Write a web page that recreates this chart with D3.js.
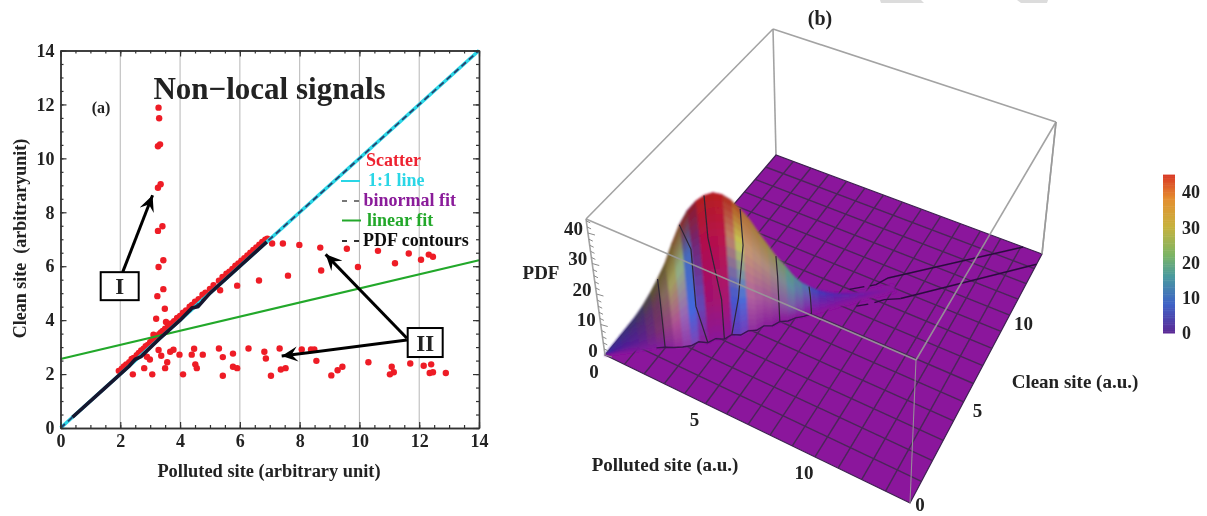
<!DOCTYPE html>
<html>
<head>
<meta charset="utf-8">
<script src="https://cdn.jsdelivr.net/npm/d3@7"></script>
<style>
body { margin: 0; background: #fff; }
text { font-family: "Liberation Serif", serif; font-weight: bold; fill: #222; }
</style>
</head>
<body>
<div id="chart"></div>
<script>
// ---- panel (a) data ----
var diagX = [1.95,2.05,2.12,2.2,2.3,2.38,2.45,2.55,2.62,2.7,2.78,2.85,2.92,3.0,3.05,3.1,3.18,3.25,3.3,3.36,3.42,3.5,3.6,3.7,3.8,3.9,4.0,4.1,4.2,4.32,4.4,4.5,4.62,4.75,4.85,5.0,5.12,5.3,5.42,5.55,5.65,5.75,5.85,5.95,6.05,6.15,6.25,6.35,6.45,6.55,6.65,6.75,6.85,6.92];
var diagY = [2.12,2.2,2.28,2.36,2.44,2.56,2.6,2.7,2.78,2.88,2.94,3.03,3.08,3.18,3.22,3.28,3.36,3.4,3.48,3.54,3.6,3.68,3.78,3.88,3.96,4.08,4.16,4.28,4.36,4.5,4.56,4.68,4.78,4.94,5.02,5.16,5.3,5.46,5.6,5.72,5.8,5.9,6.02,6.1,6.2,6.3,6.4,6.5,6.6,6.7,6.8,6.9,6.98,7.02];
var branchX = [3.28,3.3,3.26,3.33,3.26,3.35,3.26,3.41,3.28,3.44,3.24,3.44,3.49,3.2,3.53,3.11];
var branchY = [11.88,11.49,10.45,10.52,8.91,9.04,7.31,7.48,5.97,6.22,4.89,5.15,4.42,4.05,3.93,3.46];
var lowX = [2.42,2.8,3.07,2.99,2.89,3.28,3.37,3.5,3.57,3.67,3.78,3.98,4.1,4.39,4.47,4.51,4.56,4.76,5.3,5.43,5.43,5.77,5.77,5.91,6.29,6.82,6.87,7.33,7.04,7.37,7.53,8.07,8.38,8.49,8.56,9.06,9.27,9.43,10.3,11.08,11.15,11.02,11.7,12.15,12.4,12.35,12.46,12.89];
var lowY = [1.99,2.22,1.99,2.54,2.64,2.89,2.68,2.22,2.44,2.83,2.9,2.72,1.99,2.72,2.94,2.36,2.22,2.72,2.95,2.63,1.94,2.76,2.27,2.22,2.95,2.83,2.58,2.95,1.94,2.17,2.22,2.91,2.91,2.91,2.49,1.95,2.14,2.27,2.44,2.27,2.07,1.99,2.39,2.31,2.36,2.04,2.07,2.04];
var highX = [5.34,5.91,6.64,7.61,8.72,9.95,11.19,12.06,7.08,7.44,7.99,8.69,9.58,10.62,11.65,12.32,12.46];
var highY = [5.11,5.28,5.47,5.65,5.84,5.97,6.11,6.24,6.84,6.84,6.79,6.69,6.65,6.57,6.47,6.43,6.35];
var oneToOne = [0, 14];
var fitX = [0, 14];
var fitY = [2.56, 6.22];
var contourX = [0.4,1.5,2.3,2.5,2.7,3.3,3.5,3.7,4.0,4.4,4.6,5.0,6.0,6.9];
var contourY = [0.4,1.5,2.3,2.55,2.65,3.3,3.5,3.7,4.0,4.45,4.5,5.0,6.0,6.9];
var axisTicks = [0,2,4,6,8,10,12,14];
var gridTicks = [2,4,6,8,10,12];
var minorTicks = d3.range(0, 14.01, 0.5);
var legendLabels = ["Scatter","1:1 line","binormal fit","linear fit","PDF contours"];

// ---- panel (b) data ----
// ridge runs along polluted = clean; t is the position along it, every 0.25
var ridgeT = d3.range(0, 9.01, 0.25);
var ridgeZ = [0,2.5,5,7.5,10,13,16.5,20.5,25,31,36.5,40.5,43,44.3,44.6,43.4,41,37.5,33.5,28.5,24,19.5,16,12,9,7,5.3,4,3,2.3,1.7,1.1,0.6,0.35,0.2,0.08,0];
var midZ = [0,1.8,3.6,5.4,7.2,9.4,11.8,14.8,18,22.3,26.3,29.2,31,31.9,32.1,31.2,29.5,27,24.1,20.5,17.3,14,11.5,8.6,6.5,5,3.8,2.9,2.2,1.7,1.2,0.8,0.4,0.25,0.15,0.05,0];
var lowZ = [0,0.7,1.4,2.1,2.8,3.6,4.6,5.7,7,8.7,10.2,11.3,12,12.4,12.5,12.2,11.5,10.5,9.4,8,6.7,5.5,4.5,3.4,2.5,2,1.5,1.1,0.8,0.6,0.5,0.3,0.2,0.1,0.05,0,0];
var footOff = [0.05,0.1,0.15,0.2,0.25,0.3,0.35,0.45,0.62,0.72,0.78,0.62,0.84,0.68,0.86,0.66,0.84,0.66,0.76,0.56,0.7,0.52,0.62,0.52,0.55,0.5,0.5,0.45,0.45,0.4,0.4,0.35,0.35,0.3,0.3,0.3,0.3];
var pdfTicks = [0,10,20,30,40];
var siteTicks = [0,5,10];
var barTicks = [0,10,20,30,40];
// contour lines on the floor, polluted / clean
var tailUpX = [8.5,13.1], tailUpY = [9.4,14];
var tailLowX = [9.5,14], tailLowY = [8.6,13.3];
var brokenUpX = [7.3,7.8], brokenUpY = [8.0,8.45];
var brokenUpX2 = [8.0,8.2,8.5], brokenUpY2 = [8.6,8.8,9.4];
var brokenLowX = [8.0,8.4], brokenLowY = [7.3,7.65];
var brokenLowX2 = [8.6,8.9,9.5], brokenLowY2 = [7.85,8.2,8.6];
// lines down the hill face, t at ridge / mid / low / foot
var faceLines = [[1.75,1.75,1.75,1.75],[2.5,2.75,2.75,3.0],[3.25,3.25,3.5,3.5],[4.25,4.25,3.9,3.75],[5.25,5.25,5.25,5.25],[6.25,6.25,6.25,6.25]];

var svg = d3.select("#chart").append("svg")
    .attr("width", 1207)
    .attr("height", 516)
    .style("display", "block");

var defs = svg.append("defs");
var blur = defs.append("filter").attr("id", "soft").attr("x", 0).attr("y", 0).attr("width", "100%").attr("height", "100%");
blur.append("feGaussianBlur").attr("stdDeviation", 0.45);
var blurHill = defs.append("filter").attr("id", "softHill");
blurHill.append("feGaussianBlur").attr("stdDeviation", 1);

defs.append("marker")
    .attr("id", "head")
    .attr("viewBox", "-16 -8 18 16")
    .attr("markerUnits", "userSpaceOnUse")
    .attr("markerWidth", 18)
    .attr("markerHeight", 16)
    .attr("orient", "auto")
    .append("path")
    .attr("d", "M0,0 L-16,-7.5 L-10,0 L-16,7.5 Z")
    .attr("fill", "#000");

var root = svg.append("g").attr("filter", "url(#soft)");

// watermark scraps along the top edge
root.append("path").attr("d", "M880,0H921L924,3H881Z").attr("fill", "#dcdcdc");
root.append("path").attr("d", "M1017,0H1048L1047,3H1021Z").attr("fill", "#dcdcdc");

// ---------------- panel (a) ----------------
var xScale = d3.scaleLinear().domain([0, 14]).range([60.5, 479]);
var yScale = d3.scaleLinear().domain([0, 14]).range([428, 50.5]);
var left = root.append("g");

left.selectAll(".grid")
    .data(gridTicks)
    .join("line")
    .attr("class", "grid")
    .attr("x1", function(d) { return xScale(d); })
    .attr("x2", function(d) { return xScale(d); })
    .attr("y1", yScale(0))
    .attr("y2", yScale(14))
    .attr("stroke", "#bdbdbd")
    .attr("stroke-width", 1.1);

function dots(xs, ys) {
    left.append("g").selectAll("circle")
        .data(xs)
        .join("circle")
        .attr("cx", function(d) { return xScale(d); })
        .attr("cy", function(d, i) { return yScale(ys[i]); })
        .attr("r", 3.2)
        .attr("fill", "#ee1c25");
}
dots(diagX, diagY);
dots(branchX, branchY);
dots(lowX, lowY);
dots(highX, highY);

var dataLine = d3.line()
    .x(function(d) { return xScale(d[0]); })
    .y(function(d) { return yScale(d[1]); });

left.append("path")
    .attr("d", dataLine(oneToOne.map(function(d) { return [d, d]; })))
    .attr("stroke", "#2bd6e6").attr("stroke-width", 3.6).attr("fill", "none");
left.append("path")
    .attr("d", dataLine(oneToOne.map(function(d) { return [d, d]; })))
    .attr("stroke", "#27406e").attr("stroke-width", 1.8).attr("stroke-dasharray", "6,4").attr("fill", "none");
left.append("path")
    .attr("d", dataLine(fitX.map(function(d, i) { return [d, fitY[i]]; })))
    .attr("stroke", "#22a82a").attr("stroke-width", 2.2).attr("fill", "none");
left.append("path")
    .attr("d", dataLine(contourX.map(function(d, i) { return [d, contourY[i]]; })))
    .attr("stroke", "#14142e").attr("stroke-width", 3.6).attr("fill", "none");

// axes, ticks pointing inward on all four sides
function sideAxis(maker, scale, tx, ty, values, size, labels) {
    var a = maker(scale).tickValues(values).tickSizeInner(-size).tickSizeOuter(0).tickPadding(labels ? 6 : 0);
    if (!labels) a.tickFormat("");
    var g = left.append("g").attr("transform", "translate(" + tx + "," + ty + ")").call(a);
    g.selectAll(".domain").attr("stroke", "#333").attr("stroke-width", 1.4);
    g.selectAll(".tick line").attr("stroke", "#333").attr("stroke-width", 1.2);
    g.selectAll("text").attr("font-size", 18).attr("font-family", "Liberation Serif").attr("font-weight", "bold").attr("fill", "#222");
}
sideAxis(d3.axisBottom, xScale, 0, yScale(0), minorTicks, 3, false);
sideAxis(d3.axisTop, xScale, 0, yScale(14), minorTicks, 3, false);
sideAxis(d3.axisLeft, yScale, xScale(0), 0, minorTicks, 3, false);
sideAxis(d3.axisRight, yScale, xScale(14), 0, minorTicks, 3, false);
sideAxis(d3.axisBottom, xScale, 0, yScale(0), axisTicks, 6, true);
sideAxis(d3.axisTop, xScale, 0, yScale(14), axisTicks, 6, false);
sideAxis(d3.axisLeft, yScale, xScale(0), 0, axisTicks, 6, true);
sideAxis(d3.axisRight, yScale, xScale(14), 0, axisTicks, 6, false);

left.append("text").attr("x", 269).attr("y", 477).attr("text-anchor", "middle").attr("font-size", 18.4).text("Polluted site (arbitrary unit)");
left.append("text").attr("transform", "translate(26,238.5) rotate(-90)").attr("text-anchor", "middle").attr("font-size", 18).style("white-space", "pre").text("Clean site  (arbitraryunit)");
left.append("text").attr("x", 269.5).attr("y", 99).attr("text-anchor", "middle").attr("font-size", 31).text("Non\u2212local signals");
left.append("text").attr("x", 101).attr("y", 113).attr("text-anchor", "middle").attr("font-size", 16).text("(a)");

// legend
var legendY = [166, 186, 205.5, 225.5, 245.5];
var legendTextX = [366, 368, 363.5, 367, 363];
var legendColor = ["#ee2430", "#2bd6e6", "#8a1a9a", "#22a82a", "#111"];
left.selectAll(".leg")
    .data(legendLabels)
    .join("text")
    .attr("class", "leg")
    .attr("x", function(d, i) { return legendTextX[i]; })
    .attr("y", function(d, i) { return legendY[i]; })
    .attr("font-size", 18)
    .style("fill", function(d, i) { return legendColor[i]; })
    .text(function(d) { return d; });
left.append("line").attr("x1", 341).attr("x2", 360).attr("y1", 181).attr("y2", 181).attr("stroke", "#2bd6e6").attr("stroke-width", 2);
left.append("line").attr("x1", 342).attr("x2", 359).attr("y1", 201).attr("y2", 201).attr("stroke", "#777").attr("stroke-width", 2).attr("stroke-dasharray", "5,7");
left.append("line").attr("x1", 342).attr("x2", 361).attr("y1", 220.5).attr("y2", 220.5).attr("stroke", "#22a82a").attr("stroke-width", 2);
left.append("line").attr("x1", 342).attr("x2", 359).attr("y1", 241).attr("y2", 241).attr("stroke", "#333").attr("stroke-width", 2).attr("stroke-dasharray", "5,7");

// annotation arrows and boxes, in data units
var arrows = [[2.08,5.78,3.08,8.63],[11.59,3.26,7.4,2.67],[11.59,3.33,8.87,6.44]];
left.selectAll(".arrow")
    .data(arrows)
    .join("line")
    .attr("class", "arrow")
    .attr("x1", function(d) { return xScale(d[0]); })
    .attr("y1", function(d) { return yScale(d[1]); })
    .attr("x2", function(d) { return xScale(d[2]); })
    .attr("y2", function(d) { return yScale(d[3]); })
    .attr("stroke", "#000").attr("stroke-width", 3)
    .attr("marker-end", "url(#head)");

var boxes = [{x: 1.98, y: 5.26, w: 38, h: 28, t: "I"}, {x: 12.2, y: 3.17, w: 35, h: 29, t: "II"}];
boxes.forEach(function(b) {
    left.append("rect")
        .attr("x", xScale(b.x) - b.w / 2).attr("y", yScale(b.y) - b.h / 2)
        .attr("width", b.w).attr("height", b.h)
        .attr("fill", "#fff").attr("stroke", "#000").attr("stroke-width", 2);
    left.append("text")
        .attr("x", xScale(b.x)).attr("y", yScale(b.y) + 8)
        .attr("text-anchor", "middle").attr("font-size", 23).text(b.t);
});

// ---------------- panel (b) ----------------
// floor and lid of the box as screen quads; (x,y) 0..14 through scales, then projective map
var uScale = d3.scaleLinear().domain([0, 14]).range([0, 1]);
var zScale = d3.scaleLinear().domain([0, 44.6]).range([0, 1]);
var floorQuad = [[605,355],[910,503],[1042,254],[776,155]];
var lidQuad = [[586,219],[916,360],[1056,122],[773,29]];

function quadMap(q) {
    var dx1 = q[1][0] - q[2][0], dx2 = q[3][0] - q[2][0], sx = q[0][0] - q[1][0] + q[2][0] - q[3][0];
    var dy1 = q[1][1] - q[2][1], dy2 = q[3][1] - q[2][1], sy = q[0][1] - q[1][1] + q[2][1] - q[3][1];
    var den = dx1 * dy2 - dx2 * dy1;
    var g = (sx * dy2 - dx2 * sy) / den, h = (dx1 * sy - sx * dy1) / den;
    var a = q[1][0] - q[0][0] + g * q[1][0], b = q[3][0] - q[0][0] + h * q[3][0];
    var d = q[1][1] - q[0][1] + g * q[1][1], e = q[3][1] - q[0][1] + h * q[3][1];
    return function(u, v) {
        var w = g * u + h * v + 1;
        return [(a * u + b * v + q[0][0]) / w, (d * u + e * v + q[0][1]) / w];
    };
}
var floorMap = quadMap(floorQuad), lidMap = quadMap(lidQuad);

function project(x, y, z) {
    var u = uScale(x), v = uScale(y), k = zScale(z);
    var p = floorMap(u, v), q = lidMap(u, v);
    return [p[0] + (q[0] - p[0]) * k, p[1] + (q[1] - p[1]) * k];
}

var right = root.append("g");
var poly = d3.line();

function boxEdge(a, b, w) {
    right.append("line")
        .attr("x1", a[0]).attr("y1", a[1]).attr("x2", b[0]).attr("y2", b[1])
        .attr("stroke", "#999").attr("stroke-width", w || 1.6).attr("opacity", 0.9);
}
var zTop = 44.6;
boxEdge(project(0,14,0), project(0,14,zTop));
boxEdge(project(0,0,zTop), project(0,14,zTop));
boxEdge(project(0,14,zTop), project(14,14,zTop));
boxEdge(project(14,14,0), project(14,14,zTop));

// floor and mesh
right.append("path")
    .attr("d", poly([project(0,0,0), project(14,0,0), project(14,14,0), project(0,14,0)]) + "Z")
    .attr("fill", "#8b139c")
    .attr("stroke", "#3d2350")
    .attr("stroke-width", 1.2);

var meshVals = d3.range(1, 14);
meshVals.forEach(function(m) {
    var ends = [[project(m,0,0), project(m,14,0)], [project(0,m,0), project(14,m,0)]];
    ends.forEach(function(e) {
        right.append("path").attr("d", poly(e))
            .attr("stroke", "#4a2858").attr("stroke-width", 1.4).attr("fill", "none");
    });
});

// colours down the hill face, one ramp per level (ridge, mid, low, foot)
var shadeT = [0,1.05,1.65,2.3,2.55,2.85,3.05,3.65,3.9,4.1,4.3,5.05,5.65,6.1,6.45,7,9];
var shadeRidge = ["#3a2a9a","#3a3a60","#5a5a2a","#7a5a2a","#8a3020","#8a1a28","#b02020","#b81f20","#b03020","#b04a20","#b06a30","#9a8a40","#5a9a80","#4a80b0","#3a40c0","#5028b0","#8b139c"];
var shadeMid = ["#3b2aa0","#4a2a78","#6a3a5a","#b5c860","#3a80d0","#6a2a80","#b0104a","#b8124a","#c0906a","#c8d050","#c89a70","#a88a80","#5a90a0","#6a60b0","#5a30b0","#6a20a8","#8b139c"];
var shadeLow = ["#4a1aa0","#5a1f90","#7a3070","#c060a0","#3a70e8","#5a50c0","#a01070","#a81470","#3a60d8","#3a70e0","#b060a0","#9a4a9a","#7a60a8","#8030a8","#7a20a8","#8018a0","#8b139c"];
var shadeFoot = ["#8b139c","#7a1a9a","#80209a","#9a30a0","#7a50c0","#8a209a","#8a1898","#8a1898","#6040c0","#7040c0","#9030a0","#8a1a9a","#8a159a","#8b139c","#8b139c","#8b139c","#8b139c"];
var levelColor = [shadeRidge, shadeMid, shadeLow, shadeFoot].map(function(r) {
    return d3.scaleLinear().domain(shadeT).range(r).interpolate(d3.interpolateRgb);
});
var levelOff = [0, 0.55, 0.85, 1];
var levelZ = [ridgeZ, midZ, lowZ, lowZ.map(function() { return 0; })];

function surfacePoint(i, level) {
    var o = levelOff[level] * footOff[i];
    var t = ridgeT[i];
    return {x: Math.max(0, t + o / 2), y: Math.max(0, t - o / 2), z: levelZ[level][i]};
}

var quads = [];
d3.range(ridgeT.length - 2, -1, -1).forEach(function(i) {
    // far side of the ridge
    var r0 = surfacePoint(i, 0), r1 = surfacePoint(i + 1, 0);
    var b0 = {x: Math.max(0, ridgeT[i] - footOff[i] / 2), y: ridgeT[i] + footOff[i] / 2, z: 0};
    var b1 = {x: Math.max(0, ridgeT[i + 1] - footOff[i + 1] / 2), y: ridgeT[i + 1] + footOff[i + 1] / 2, z: 0};
    var farColor = levelColor[2](ridgeT[i]);
    quads.push({pts: [b0, b1, r1, r0], color: farColor, order: 0});
});
d3.range(ridgeT.length - 2, -1, -1).forEach(function(i) {
    [0, 1, 2].forEach(function(l) {
        d3.range(6).forEach(function(s) {
            var f0 = s / 6, f1 = (s + 1) / 6;
            function mix(idx, f) {
                var a = surfacePoint(idx, l), b = surfacePoint(idx, l + 1);
                return {x: a.x + (b.x - a.x) * f, y: a.y + (b.y - a.y) * f, z: a.z + (b.z - a.z) * f};
            }
            var tm = ridgeT[i] + 0.125;
            var c = d3.interpolateRgb(levelColor[l](tm), levelColor[l + 1](tm))((f0 + f1) / 2);
            quads.push({pts: [mix(i, f0), mix(i + 1, f0), mix(i + 1, f1), mix(i, f1)], color: c, order: 1});
        });
    });
});

var hill = right.append("g").attr("filter", "url(#softHill)");
hill.selectAll("path")
    .data(quads)
    .join("path")
    .attr("d", function(d) {
        return poly(d.pts.map(function(p) { return project(p.x, p.y, p.z); })) + "Z";
    })
    .attr("fill", function(d) { return d.color; })
    .attr("stroke", function(d) { return d.color; })
    .attr("stroke-width", 0.7);

// contour lines
function drawPlot(pts, w, col) {
    right.append("path").attr("d", poly(pts))
        .attr("stroke", col || "#2a0d3e").attr("stroke-width", w || 1.2).attr("fill", "none");
}
faceLines.forEach(function(f) {
    drawPlot(f.map(function(t, l) {
        var p = surfacePoint(Math.round(t / 0.25), l);
        return project(p.x, p.y, p.z);
    }), 1.2, "#2f2636");
});
var footLine = d3.range(6, 26).map(function(i) {
    var p = surfacePoint(i, 3);
    return project(p.x, p.y, 0);
});
drawPlot(footLine, 1.4, "#3a1350");

function zipFloor(xs, ys) {
    return xs.map(function(d, i) { return project(d, ys[i], 0); });
}
drawPlot(zipFloor(tailUpX, tailUpY), 1.5);
drawPlot(zipFloor(tailLowX, tailLowY), 1.5);
drawPlot(zipFloor(brokenUpX, brokenUpY), 1.3);
drawPlot(zipFloor(brokenUpX2, brokenUpY2), 1.3);
drawPlot(zipFloor(brokenLowX, brokenLowY), 1.3);
drawPlot(zipFloor(brokenLowX2, brokenLowY2), 1.3);

// front box edges show through the surface
boxEdge(project(0,0,zTop), project(14,0,zTop));
boxEdge(project(14,0,zTop), project(14,14,zTop));
boxEdge(project(14,0,0), project(14,0,zTop), 1.1);
boxEdge(project(0,0,0), project(0,0,zTop));
boxEdge(project(14,14,zTop), project(14,14,0));

// PDF axis ticks
d3.range(0, 44.01, 2).forEach(function(z) {
    var a = project(0, 0, z);
    var len = z % 10 === 0 ? 7 : 4;
    right.append("line")
        .attr("x1", a[0]).attr("y1", a[1]).attr("x2", a[0] + len).attr("y2", a[1] + 2)
        .attr("stroke", "#8a8a8a").attr("stroke-width", 1);
});

right.selectAll(".pdfLab")
    .data(pdfTicks)
    .join("text")
    .attr("class", "pdfLab")
    .attr("x", function(d) { return project(0, 0, d)[0] - (d === 0 ? 12 : 14.5); })
    .attr("y", function(d) { return project(0, 0, d)[1] + 1.5; })
    .attr("text-anchor", "middle").attr("font-size", 19)
    .text(function(d) { return d; });

// site axes labels
var pollutedTickPos = siteTicks.map(function(d) { return project(d, 0, 0); });
right.selectAll(".polLab")
    .data(siteTicks)
    .join("text")
    .attr("class", "polLab")
    .attr("x", function(d, i) { return pollutedTickPos[i][0] - 11; })
    .attr("y", function(d, i) { return pollutedTickPos[i][1] + 22.5; })
    .attr("text-anchor", "middle").attr("font-size", 19)
    .text(function(d) { return d; });
var cleanTickPos = siteTicks.map(function(d) { return project(14, d, 0); });
right.selectAll(".cleanLab")
    .data(siteTicks)
    .join("text")
    .attr("class", "cleanLab")
    .attr("x", function(d, i) { return cleanTickPos[i][0] + (d === 0 ? 10 : 14); })
    .attr("y", function(d, i) { return Math.min(511, cleanTickPos[i][1] + 15); })
    .attr("text-anchor", "middle").attr("font-size", 19)
    .text(function(d) { return d; });

right.append("text").attr("x", 541).attr("y", 279).attr("text-anchor", "middle").attr("font-size", 19).text("PDF");
right.append("text").attr("x", 665).attr("y", 470.5).attr("text-anchor", "middle").attr("font-size", 19).text("Polluted site (a.u.)");
right.append("text").attr("x", 1075).attr("y", 387.5).attr("text-anchor", "middle").attr("font-size", 19).text("Clean site (a.u.)");
right.append("text").attr("x", 820).attr("y", 25).attr("text-anchor", "middle").attr("font-size", 20).text("(b)");

// colour bar
var barScale = d3.scaleLinear().domain([0, 44.6]).range([333, 176]);
var rainbow = d3.scaleLinear()
    .domain([0, 8, 16, 22, 30, 38, 44.6])
    .range(["#5b2a96", "#3f62c6", "#4a9a9e", "#7cb465", "#c6b23e", "#e48e30", "#d93a26"])
    .interpolate(d3.interpolateRgb);
right.append("g").selectAll("rect")
    .data(d3.range(0, 44.6, 0.5))
    .join("rect")
    .attr("x", 1163)
    .attr("y", function(d) { return barScale(d + 0.5); })
    .attr("width", 12)
    .attr("height", function(d) { return barScale(d) - barScale(d + 0.5) + 0.5; })
    .attr("fill", function(d) { return rainbow(d); });
var barAxis = d3.axisRight(barScale).tickValues(barTicks).tickSize(0).tickPadding(7);
var barG = right.append("g").attr("transform", "translate(1175,0)").call(barAxis);
barG.select(".domain").remove();
barG.selectAll("text").attr("font-size", 18).attr("font-family", "Liberation Serif").attr("font-weight", "bold").attr("fill", "#222");
</script>
</body>
</html>
